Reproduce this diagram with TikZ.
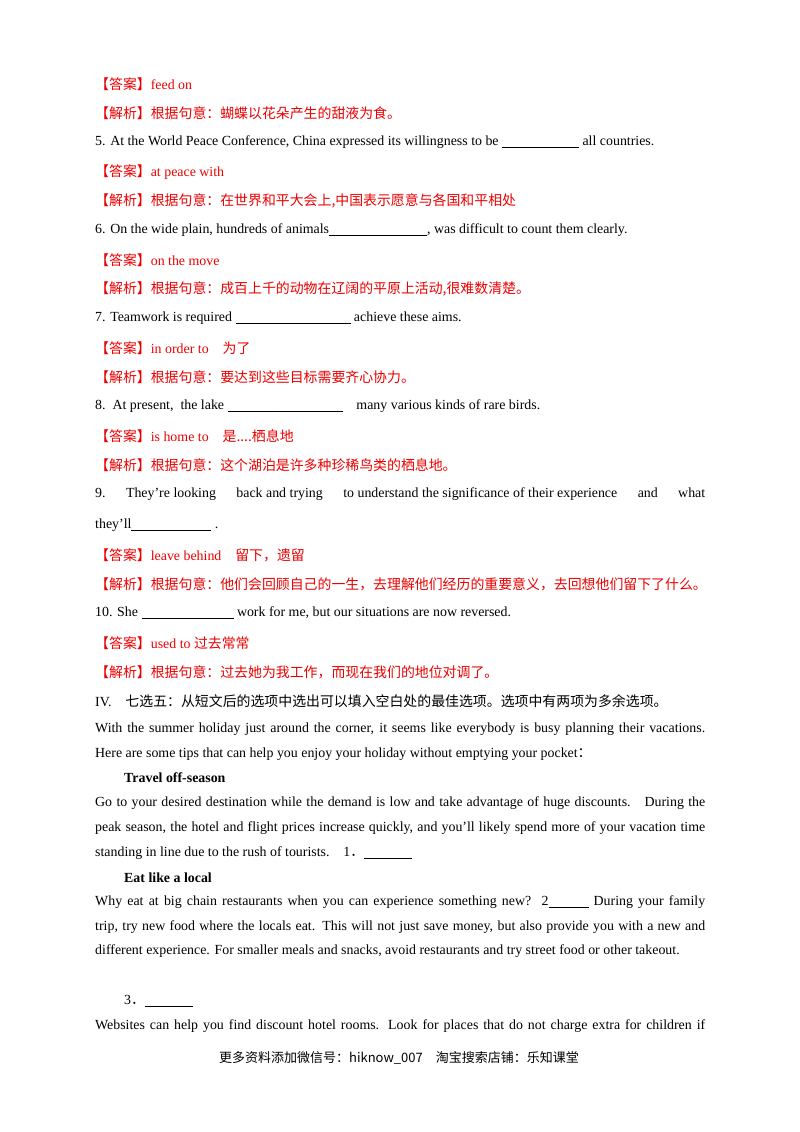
\documentclass[tikz,border=0pt]{standalone}
\usepackage{fontspec}
\setmainfont{Liberation Serif}
\newfontfamily\cjk{Noto Sans CJK SC}
\definecolor{ansred}{RGB}{235,0,0}
\newcommand{\blank}[1]{\rule[-2pt]{#1pt}{0.5pt}}
\newcommand{\Ans}[1]{\textcolor{ansred}{{\cjk 【答案】}#1}}
\newcommand{\Jx}[1]{\textcolor{ansred}{{\cjk 【解析】根据句意：#1}}}
\newcommand{\Ln}[3][95]{\node[txt] (n#2) at (#1pt,-#2pt) {#3};}
\newcommand{\LJ}[2]{\node[txt] (n#1) at (95pt,-#1pt) {\makebox[610pt][s]{#2}};}
\begin{document}
\begin{tikzpicture}[txt/.style={anchor=west,inner sep=0pt,font=\fontsize{13.9pt}{16pt}\selectfont}]
\useasboundingbox[fill=white] (0,0) rectangle (800pt,-1132pt);
\Ln{84}{\Ans{feed on}}
\Ln{113}{\Jx{蝴蝶以花朵产生的甜液为食。}}
\Ln{142}{5. At the World Peace Conference, China expressed its willingness to be \blank{77} all countries.}
\Ln{172}{\Ans{at peace with}}
\Ln{201}{\Jx{在世界和平大会上,中国表示愿意与各国和平相处}}
\Ln{230}{6. On the wide plain, hundreds of animals\blank{98}, was difficult to count them clearly.}
\Ln{260}{\Ans{on the move}}
\Ln{289}{\Jx{成百上千的动物在辽阔的平原上活动,很难数清楚。}}
\Ln{318}{7. Teamwork is required \blank{115} achieve these aims.}
\Ln{348}{\Ans{in order to\quad {\cjk 为了}}}
\Ln{377}{\Jx{要达到这些目标需要齐心协力。}}
\Ln{406}{8.\ \ At present,\ \ the lake \blank{115}\quad many various kinds of rare birds.}
\Ln{436}{\Ans{is home to\quad {\cjk 是....栖息地}}}
\Ln{465}{\Jx{这个湖泊是许多种珍稀鸟类的栖息地。}}
\LJ{494}{9.\hfill They're looking\hfill back and trying\hfill to understand the significance of their experience\hfill and\hfill what}
\Ln{525}{they'll\blank{80} .}
\Ln{555}{\Ans{leave behind\quad {\cjk 留下，遗留}}}
\Ln{584}{\Jx{他们会回顾自己的一生，去理解他们经历的重要意义，去回想他们留下了什么。}}
\Ln{613}{10. She \blank{92} work for me, but our situations are now reversed.}
\Ln{643}{\Ans{used to\ {\cjk 过去常常}}}
\Ln{672}{\Jx{过去她为我工作，而现在我们的地位对调了。}}
\Ln{701}{IV.\quad{\cjk 七选五：从短文后的选项中选出可以填入空白处的最佳选项。选项中有两项为多余选项。}}
\LJ{729}{With the summer holiday just around the corner, it seems like everybody is busy planning their vacations.}
\Ln{754}{Here are some tips that can help you enjoy your holiday without emptying your pocket{\cjk ：}}
\Ln[124]{778}{\textbf{Travel off-season}}
\LJ{803}{Go to your desired destination while the demand is low and take advantage of huge discounts.\quad During the}
\LJ{828}{peak season, the hotel and flight prices increase quickly, and you'll likely spend more of your vacation time}
\Ln{853}{standing in line due to the rush of tourists.\quad 1{\cjk ．}\blank{48}}
\Ln[124]{878}{\textbf{Eat like a local}}
\LJ{902}{Why eat at big chain restaurants when you can experience something new?\ \ 2\blank{40} During your family}
\LJ{927}{trip, try new food where the locals eat. This will not just save money, but also provide you with a new and}
\Ln{951}{different experience. For smaller meals and snacks, avoid restaurants and try street food or other takeout.}
\Ln[124]{1001}{3{\cjk ．}\blank{48}}
\LJ{1026}{Websites can help you find discount hotel rooms. Look for places that do not charge extra for children if}
\node[txt,anchor=center,font=\fontsize{13pt}{15pt}\selectfont] (foot) at (399pt,-1058pt) {\cjk 更多资料添加微信号：hiknow\_007\quad 淘宝搜索店铺：乐知课堂};
\end{tikzpicture}
\end{document}
